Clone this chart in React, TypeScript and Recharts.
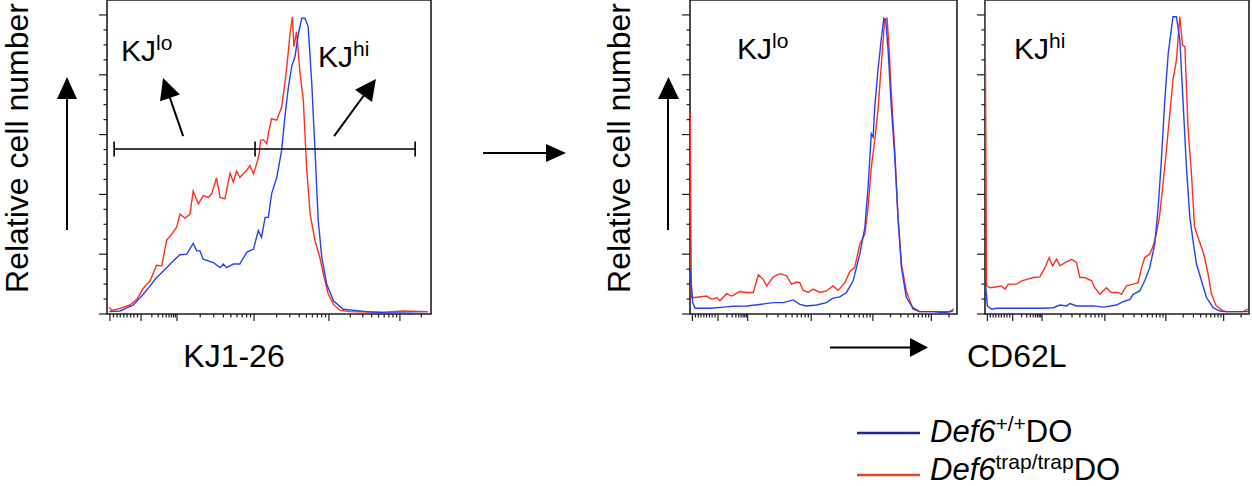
import React from 'react';
import { LineChart, Line, XAxis, YAxis, ReferenceArea, ReferenceLine } from 'recharts';

// ---- data: [channel (0-1000 display scale), relative cell number (% of max)] ----
const kj126Blue: number[][] = [[7,0.8],[40,1.0],[81,3.0],[112,6.6],[133,9.4],[153,12.2],[164,13.3],[184,15.5],[205,17.8],[225,19.8],[246,20.0],[266,23.6],[277,21.1],[287,21.1],[297,18.3],[328,17.2],[349,15.5],[359,16.7],[369,15.5],[390,16.7],[410,16.7],[431,20.6],[452,21.7],[467,27.9],[477,25.6],[488,32.3],[498,32.3],[508,40.2],[524,45.7],[539,54.7],[549,65.9],[560,76.0],[570,82.7],[580,86.0],[591,93.8],[601,98.9],[611,98.9],[621,96.1],[632,77.1],[642,54.7],[652,31.2],[663,18.9],[678,10.0],[699,4.4],[729,1.6],[801,0.8],[853,0.4],[990,0.2]];
const kj126Red: number[][] = [[7,2.3],[14,1.2],[40,1.9],[71,3.0],[92,4.9],[112,8.6],[133,11.1],[153,16.3],[169,16.1],[184,24.7],[200,26.7],[215,29.0],[225,33.4],[241,32.1],[256,33.4],[266,41.1],[282,36.8],[297,39.6],[313,39.0],[323,40.2],[338,45.5],[349,39.0],[364,38.5],[380,47.1],[390,44.1],[400,47.8],[410,45.7],[431,48.0],[441,49.7],[452,46.9],[462,50.2],[470,53.6],[474,58.1],[483,58.3],[493,56.9],[498,60.3],[508,65.3],[524,64.8],[539,69.2],[549,77.1],[555,82.7],[565,93.8],[572,99.4],[577,89.4],[585,94.4],[596,80.4],[606,71.4],[616,49.1],[627,33.4],[642,24.5],[657,18.9],[668,13.3],[683,6.6],[699,3.2],[719,1.2],[750,0.8],[853,0.6],[915,1.0],[990,0.8]];

const kjLoBlue: number[][] = [[1,15.0],[10,3.8],[19,1.9],[75,1.9],[125,2.3],[162,2.6],[212,2.7],[262,3.2],[312,3.8],[349,3.8],[387,4.7],[411,3.2],[436,2.7],[474,3.0],[511,3.8],[536,5.3],[561,5.7],[586,7.2],[611,11.1],[636,20.0],[655,29.0],[667,42.4],[679,60.3],[686,59.2],[692,69.2],[704,81.5],[716,91.6],[726,98.9],[733,98.3],[742,88.3],[754,69.2],[767,52.5],[779,32.3],[792,15.5],[810,5.5],[835,2.1],[860,0.8],[910,0.8],[954,0.4],[985,1.0]];
const kjLoRed: number[][] = [[1,67.0],[5,5.5],[19,5.5],[62,6.0],[81,4.9],[100,5.5],[112,4.4],[137,6.8],[156,6.0],[187,7.5],[212,7.2],[237,7.2],[256,13.1],[274,11.6],[287,9.4],[312,12.4],[337,13.5],[362,12.8],[380,10.0],[399,10.7],[411,10.5],[424,7.9],[443,7.2],[461,8.3],[486,7.2],[511,7.7],[536,9.4],[555,7.9],[580,10.5],[599,14.2],[617,15.5],[636,23.4],[655,26.7],[667,35.7],[679,49.1],[692,58.1],[704,68.1],[716,82.7],[729,98.3],[738,98.9],[746,88.3],[754,73.7],[767,54.7],[779,32.3],[792,16.7],[810,7.7],[835,1.6],[860,0.8],[910,0.8],[973,0.8],[988,1.6]];

const kjHiBlue: number[][] = [[0,12.2],[9,2.7],[25,1.6],[44,1.9],[158,1.9],[208,1.9],[259,2.1],[284,3.0],[309,2.7],[322,3.5],[347,2.7],[410,2.7],[448,2.3],[498,3.0],[523,4.1],[549,4.9],[561,6.6],[586,7.7],[605,11.1],[624,15.5],[643,23.4],[656,35.7],[668,51.3],[681,71.5],[694,87.1],[712,99.4],[725,99.4],[738,91.6],[750,71.5],[763,49.1],[776,32.3],[788,24.5],[801,16.7],[820,11.1],[839,5.5],[864,2.1],[889,1.0],[914,0.8],[996,0.8]];
const kjHiRed: number[][] = [[0,110],[6,9.4],[19,8.8],[44,9.1],[63,9.4],[76,8.3],[88,10.0],[120,10.0],[139,11.1],[158,11.6],[183,12.2],[208,12.4],[227,15.5],[243,18.9],[256,16.1],[271,18.3],[284,16.1],[303,17.2],[328,18.3],[347,17.2],[359,12.2],[378,12.2],[404,11.1],[416,8.8],[435,6.6],[460,8.8],[479,7.2],[504,7.2],[517,6.6],[536,9.4],[561,10.0],[580,10.5],[593,15.5],[605,18.9],[624,20.0],[637,22.8],[649,26.7],[662,33.4],[681,49.1],[700,67.0],[712,78.2],[725,84.9],[738,99.4],[748,89.9],[757,89.4],[769,62.5],[782,46.9],[794,29.0],[807,25.6],[820,22.3],[832,18.9],[845,13.3],[858,6.6],[876,2.7],[902,1.0],[914,0.8],[977,0.8],[996,1.6]];

// axis ticks
const majorX = [9, 105, 216, 454, 685, 904];
const linearMinorX = [20, 31, 41, 52, 62, 73, 83, 94];
const logMultipliers = [2, 3, 4, 5, 6, 7, 8, 9];
const tailMinorX = [970];
const yMajor = [0, 20, 40, 60, 80, 100];
const yTicks = [0, 5, 10, 15, 20, 25, 30, 35, 40, 45, 50, 55, 60, 65, 70, 75, 80, 85, 90, 95, 100];

// gate and annotation arrows (panel 1) in data units
const gateY = 55.2;
const gateX = [22, 457, 951];
const arrowLo = [[235, 59.5], [173, 78.9]];
const arrowHi = [[701, 59.5], [830, 78.6]];

const BLUE = '#2542f0';
const RED = '#ff2f1f';
const INK = '#1e1e1e';
const FONT = '"Liberation Sans", Arial, sans-serif';

const minorX: number[] = [...linearMinorX];
for (let i = 1; i < majorX.length - 1; i++) {
  const a = majorX[i];
  const b = majorX[i + 1];
  logMultipliers.forEach((k) => minorX.push(a + (b - a) * Math.log10(k)));
}
const allX = [...majorX, ...minorX, ...tailMinorX].sort((a, b) => a - b);

const toPts = (arr: number[][]) => arr.map(([c, v]) => ({ c, v }));

const XTick = (props: any) => {
  const { x, y, payload } = props;
  const major = majorX.includes(payload.value);
  return <line x1={x} y1={y} x2={x} y2={y + (major ? 7 : 3.5)} stroke={INK} strokeWidth={1.2} />;
};
const YTick = (props: any) => {
  const { x, y, payload } = props;
  const major = yMajor.includes(payload.value);
  return <line x1={x} y1={y} x2={x - (major ? 8 : 3.5)} y2={y} stroke={INK} strokeWidth={1.2} />;
};

const Arrow = (props: any) => {
  const { x1, y1, x2, y2 } = props;
  const dx = x2 - x1;
  const dy = y2 - y1;
  const len = Math.sqrt(dx * dx + dy * dy);
  const ux = dx / len;
  const uy = dy / len;
  const hl = 21;
  const hw = 10.5;
  const bx = x2 - ux * hl;
  const by = y2 - uy * hl;
  return (
    <g>
      <line x1={x1} y1={y1} x2={bx + ux * 2} y2={by + uy * 2} stroke="#000" strokeWidth={2} />
      <polygon points={`${x2},${y2} ${bx - uy * hw},${by + ux * hw} ${bx + uy * hw},${by - ux * hw}`} fill="#000" />
    </g>
  );
};

type PanelProps = {
  left: number;
  width: number;
  marginLeft: number;
  marginRight: number;
  blue: number[][];
  red: number[][];
  children?: React.ReactNode;
};

const Panel = ({ left, width, marginLeft, marginRight, blue, red, children }: PanelProps) => (
  <div style={{ position: 'absolute', left, top: 0 }}>
    <LineChart width={width} height={330} margin={{ top: 0, right: marginRight, bottom: 0, left: marginLeft }}>
      <XAxis
        xAxisId={0}
        type="number"
        dataKey="c"
        domain={[0, 1000]}
        allowDataOverflow
        ticks={allX}
        interval={0}
        height={16}
        tickSize={0}
        tickMargin={0}
        axisLine={false}
        tickLine={false}
        tick={(p: any) => <XTick {...p} />}
      />
      <YAxis
        yAxisId={0}
        type="number"
        domain={[0, 105]}
        allowDataOverflow
        ticks={yTicks}
        interval={0}
        width={20}
        tickSize={0}
        tickMargin={0}
        axisLine={false}
        tickLine={false}
        tick={(p: any) => <YTick {...p} />}
      />
      <ReferenceArea x1={0} x2={1000} y1={0} y2={105} fill="none" stroke={INK} strokeWidth={1.6} />
      <Line data={toPts(red)} dataKey="v" type="linear" stroke={RED} strokeWidth={1.4} dot={false} isAnimationActive={false} />
      <Line data={toPts(blue)} dataKey="v" type="linear" stroke={BLUE} strokeWidth={1.4} dot={false} isAnimationActive={false} />
      {children}
    </LineChart>
  </div>
);

const Sup = ({ x, y, main, sup, size = 30, supSize = 21 }: any) => (
  <text x={x} y={y} fontSize={size} fill="#000">
    {main}
    <tspan fontSize={supSize} dy={-11}>{sup}</tspan>
  </text>
);

export default function App() {
  return (
    <div style={{ position: 'absolute', left: 0, top: 0, width: 1252, height: 486, background: '#fff', fontFamily: FONT }}>
      <Panel left={0} width={440} marginLeft={87} marginRight={9} blue={kj126Blue} red={kj126Red}>
        <ReferenceLine segment={[{ x: gateX[0], y: gateY }, { x: gateX[2], y: gateY }]} stroke="#000" strokeWidth={1.6} />
        {gateX.map((g) => (
          <ReferenceLine key={g} segment={[{ x: g, y: gateY - 2.5 }, { x: g, y: gateY + 2.5 }]} stroke="#000" strokeWidth={1.6} />
        ))}
        <ReferenceLine segment={[{ x: arrowLo[0][0], y: arrowLo[0][1] }, { x: arrowLo[1][0], y: arrowLo[1][1] }]} shape={(p: any) => <Arrow {...p} />} />
        <ReferenceLine segment={[{ x: arrowHi[0][0], y: arrowHi[0][1] }, { x: arrowHi[1][0], y: arrowHi[1][1] }]} shape={(p: any) => <Arrow {...p} />} />
      </Panel>
      <Panel left={600} width={370} marginLeft={70} marginRight={13} blue={kjLoBlue} red={kjLoRed} />
      <Panel left={960} width={292} marginLeft={5} marginRight={3} blue={kjHiBlue} red={kjHiRed} />

      <svg width={1252} height={486} style={{ position: 'absolute', left: 0, top: 0, pointerEvents: 'none' }} fontFamily={FONT}>
        <text x={28} y={148} fontSize={32} textAnchor="middle" transform="rotate(-90 28 148)" fill="#000">Relative cell number</text>
        <text x={630} y={148} fontSize={32} textAnchor="middle" transform="rotate(-90 630 148)" fill="#000">Relative cell number</text>

        <line x1={67} y1={230} x2={67} y2={97} stroke="#000" strokeWidth={2} />
        <polygon points="57,99 77,99 67,77" fill="#000" />
        <line x1={668} y1={230} x2={668} y2={97} stroke="#000" strokeWidth={2} />
        <polygon points="658,99 679,99 668.5,77" fill="#000" />

        <Sup x={121} y={61} main="KJ" sup="lo" />
        <Sup x={318} y={67} main="KJ" sup="hi" />
        <Sup x={737} y={59} main="KJ" sup="lo" />
        <Sup x={1014} y={59} main="KJ" sup="hi" />

        <text x={234} y={367} fontSize={32} textAnchor="middle" fill="#000">KJ1-26</text>
        <text x={967} y={367} fontSize={32} fill="#000">CD62L</text>

        <line x1={483} y1={153} x2={548} y2={153} stroke="#000" strokeWidth={2} />
        <polygon points="546,144 546,162 566,153" fill="#000" />
        <line x1={830} y1={347.5} x2={912} y2={347.5} stroke="#000" strokeWidth={2} />
        <polygon points="910,338 910,357 928,347.5" fill="#000" />

        <line x1={857} y1={433} x2={920} y2={433} stroke="#1a2a9c" strokeWidth={2.5} />
        <text x={930} y={442} fontSize={31} fill="#000">
          <tspan fontStyle="italic">Def6</tspan>
          <tspan fontSize={21} dy={-11}>+/+</tspan>
          <tspan dy={11}>DO</tspan>
        </text>
        <line x1={857} y1={475} x2={920} y2={475} stroke="#e8411f" strokeWidth={2.5} />
        <text x={930} y={480} fontSize={31} fill="#000">
          <tspan fontStyle="italic">Def6</tspan>
          <tspan fontSize={21} dy={-11}>trap/trap</tspan>
          <tspan dy={11}>DO</tspan>
        </text>
      </svg>
    </div>
  );
}
